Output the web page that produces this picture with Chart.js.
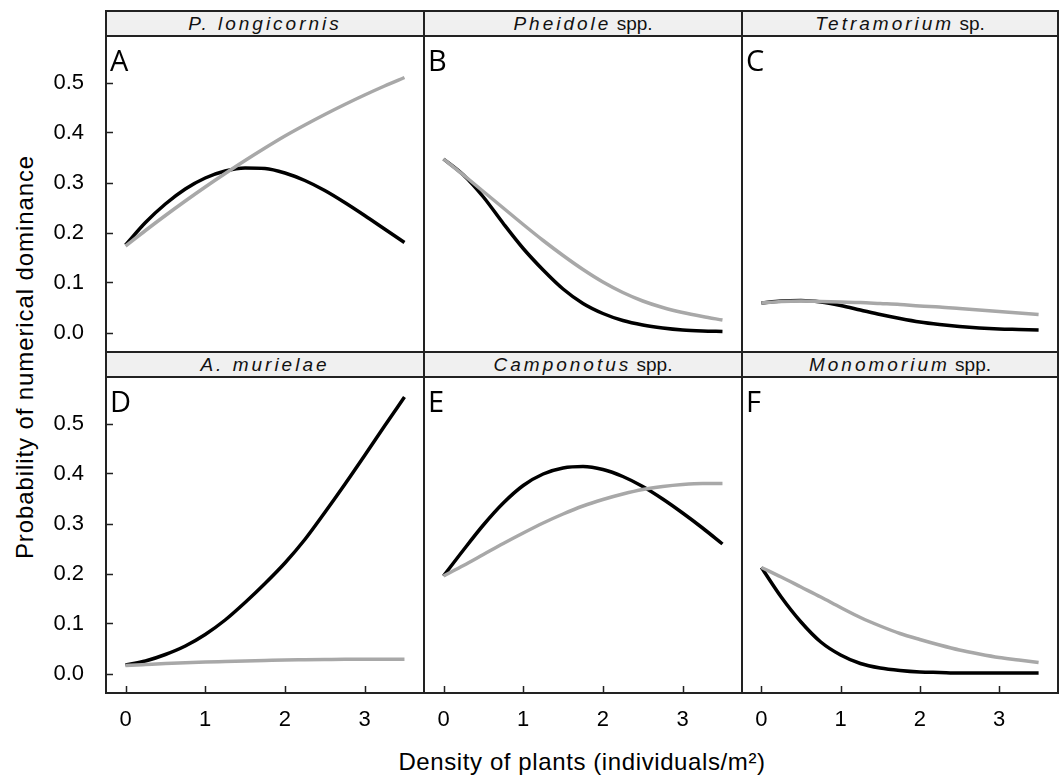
<!DOCTYPE html>
<html>
<head>
<meta charset="utf-8">
<script src="https://cdn.jsdelivr.net/npm/chart.js@4.4.0/dist/chart.umd.min.js"></script>
<style>
  body { margin: 0; background: #fff; width: 1063px; height: 776px; position: relative; overflow: hidden;
         font-family: "Liberation Sans", Arial, sans-serif; color: #000; }
  canvas { position: absolute; }
  .frame { position: absolute; border: 2px solid #222; box-sizing: border-box; pointer-events: none; }
  .strip { position: absolute; left: 0; right: 0; top: 0; height: 25px; box-sizing: border-box;
           background: #f0f0f0; border-bottom: 2px solid #222; text-align: center;
           font-size: 19px; line-height: 23px; color: #111; }
  .strip i { letter-spacing: 3px; }
  .letter { position: absolute; font-family: "Open Sans", sans-serif; font-size: 29px; line-height: 29px; }
  .xtitle { position: absolute; left: 106px; width: 952px; top: 747px; text-align: center;
            font-size: 24px; line-height: 30px; letter-spacing: 0.6px; }
  .ytitle { position: absolute; left: -225px; top: 342px; width: 500px; text-align: center;
            font-size: 24px; line-height: 30px; letter-spacing: 0.9px; transform: rotate(-90deg); }
</style>
</head>
<body>
<script>
// density of plants (individuals/m2)
const density = [0, 0.25, 0.5, 0.75, 1, 1.25, 1.5, 1.75, 2, 2.25, 2.5, 2.75, 3, 3.25, 3.5];

// probability of numerical dominance, black and grey curves per panel
const aBlack = [0.175, 0.22, 0.257, 0.287, 0.309, 0.323, 0.329, 0.328, 0.319, 0.304, 0.284, 0.26, 0.234, 0.207, 0.18];
const aGrey  = [0.173, 0.204, 0.234, 0.263, 0.291, 0.318, 0.344, 0.369, 0.393, 0.415, 0.436, 0.456, 0.475, 0.493, 0.51];
const bBlack = [0.347, 0.315, 0.271, 0.218, 0.168, 0.125, 0.087, 0.058, 0.038, 0.024, 0.015, 0.009, 0.005, 0.003, 0.002];
const bGrey  = [0.347, 0.315, 0.282, 0.249, 0.216, 0.184, 0.154, 0.126, 0.101, 0.08, 0.063, 0.05, 0.04, 0.032, 0.025];
const cBlack = [0.059, 0.063, 0.064, 0.061, 0.054, 0.045, 0.036, 0.028, 0.021, 0.016, 0.012, 0.009, 0.007, 0.006, 0.005];
const cGrey  = [0.059, 0.062, 0.063, 0.062, 0.061, 0.06, 0.058, 0.056, 0.053, 0.051, 0.048, 0.045, 0.042, 0.039, 0.036];
const dBlack = [0.017, 0.025, 0.038, 0.055, 0.078, 0.107, 0.142, 0.18, 0.221, 0.268, 0.322, 0.378, 0.436, 0.495, 0.553];
const dGrey  = [0.016, 0.018, 0.02, 0.0215, 0.023, 0.024, 0.025, 0.026, 0.027, 0.0275, 0.028, 0.0285, 0.0285, 0.0285, 0.0285];
const eBlack = [0.195, 0.247, 0.297, 0.341, 0.376, 0.399, 0.411, 0.414, 0.408, 0.394, 0.374, 0.349, 0.321, 0.291, 0.259];
const eGrey  = [0.195, 0.216, 0.238, 0.26, 0.281, 0.301, 0.319, 0.335, 0.348, 0.359, 0.368, 0.374, 0.378, 0.38, 0.38];
const fBlack = [0.212, 0.153, 0.103, 0.063, 0.037, 0.02, 0.011, 0.006, 0.003, 0.002, 0.001, 0.001, 0.001, 0.001, 0.001];
const fGrey  = [0.212, 0.193, 0.173, 0.153, 0.132, 0.112, 0.095, 0.08, 0.068, 0.057, 0.047, 0.039, 0.032, 0.027, 0.022];

const xTicks = [0, 1, 2, 3];
const yTicks = [0, 0.1, 0.2, 0.3, 0.4, 0.5];

const titles = ['<i>P. longicornis</i>', '<i>Pheidole</i> spp.', '<i>Tetramorium</i> sp.',
                '<i>A. murielae</i>', '<i>Camponotus</i> spp.', '<i>Monomorium</i> spp.'];
const letters = ['A', 'B', 'C', 'D', 'E', 'F'];
const blacks = [aBlack, bBlack, cBlack, dBlack, eBlack, fBlack];
const greys = [aGrey, bGrey, cGrey, dGrey, eGrey, fGrey];

// panel grid
const colL = [106, 424, 742], colR = [424, 742, 1058];
const stripTop = [11, 352], plotTop = [36, 377], plotBot = [352, 693];
const YW = 60, XH = 50;

Chart.defaults.font.family = '"Liberation Sans", Arial, sans-serif';
Chart.defaults.font.size = 22;
Chart.defaults.color = '#000';

// ticks drawn inwards, like the lattice original
const innerTicks = {
  id: 'innerTicks',
  afterDraw(chart, args, opts) {
    const { ctx, chartArea: a, scales } = chart;
    ctx.save();
    ctx.strokeStyle = '#222';
    ctx.lineWidth = 1.5;
    ctx.beginPath();
    if (opts.y) yTicks.forEach(v => {
      const py = Math.round(scales.y.getPixelForValue(v)) + 0.5;
      ctx.moveTo(a.left, py); ctx.lineTo(a.left + 7, py);
    });
    if (opts.x) xTicks.forEach(v => {
      const px = Math.round(scales.x.getPixelForValue(v)) + 0.5;
      ctx.moveTo(px, a.bottom); ctx.lineTo(px, a.bottom - 7);
    });
    ctx.stroke();
    ctx.restore();
  }
};

const pts = arr => arr.map((v, i) => ({ x: density[i], y: v }));
const noPad = s => { s.paddingTop = 0; s.paddingBottom = 0; s.paddingLeft = 0; s.paddingRight = 0; };

for (let p = 0; p < 6; p++) {
  const row = Math.floor(p / 3), col = p % 3;
  const showY = col === 0, showX = row === 1;
  const w = colR[col] - colL[col], h = plotBot[row] - plotTop[row];

  const cv = document.createElement('canvas');
  const cw = w + (showY ? YW : 0), ch = h + (showX ? XH : 0);
  cv.width = cw; cv.height = ch;
  cv.style.width = cw + 'px'; cv.style.height = ch + 'px';
  cv.style.left = (colL[col] - (showY ? YW : 0)) + 'px';
  cv.style.top = plotTop[row] + 'px';
  document.body.appendChild(cv);

  new Chart(cv, {
    type: 'line',
    data: {
      datasets: [
        { data: pts(greys[p]), borderColor: '#a8a8a8', borderWidth: 3.5 },
        { data: pts(blacks[p]), borderColor: '#000', borderWidth: 3.5 }
      ]
    },
    options: {
      responsive: false,
      animation: false,
      layout: { padding: 0 },
      elements: { point: { radius: 0 }, line: { cubicInterpolationMode: 'monotone', borderCapStyle: 'butt' } },
      plugins: { legend: { display: false }, tooltip: { enabled: false }, innerTicks: { x: showX, y: showY } },
      scales: {
        x: {
          type: 'linear', min: -0.245, max: 3.745, display: showX,
          grid: { display: false }, border: { display: false },
          ticks: { padding: 6, maxRotation: 0, font: { size: 22 }, callback: v => String(v) },
          afterBuildTicks: s => { s.ticks = xTicks.map(v => ({ value: v })); },
          afterFit: s => { s.height = showX ? XH : 0; noPad(s); }
        },
        y: {
          type: 'linear', min: -0.039, max: 0.593, display: showY,
          grid: { display: false }, border: { display: false },
          ticks: { padding: 14, font: { size: 22 }, callback: v => v.toFixed(1) },
          afterBuildTicks: s => { s.ticks = yTicks.map(v => ({ value: v })); },
          afterFit: s => { s.width = showY ? YW : 0; noPad(s); }
        }
      }
    },
    plugins: [innerTicks]
  });

  // frame, strip and panel letter
  const fr = document.createElement('div');
  fr.className = 'frame';
  fr.style.left = (colL[col] - 1) + 'px';
  fr.style.top = (stripTop[row] - 1) + 'px';
  fr.style.width = (w + 2) + 'px';
  fr.style.height = (plotBot[row] - stripTop[row] + 2) + 'px';
  fr.innerHTML = '<div class="strip">' + titles[p] + '</div>';
  document.body.appendChild(fr);

  const lt = document.createElement('div');
  lt.className = 'letter';
  lt.textContent = letters[p];
  lt.style.left = (colL[col] + 4) + 'px';
  lt.style.top = (plotTop[row] + 9) + 'px';
  document.body.appendChild(lt);
}
</script>
<div class="ytitle">Probability of numerical dominance</div>
<div class="xtitle">Density of plants (individuals/m²)</div>
</body>
</html>
